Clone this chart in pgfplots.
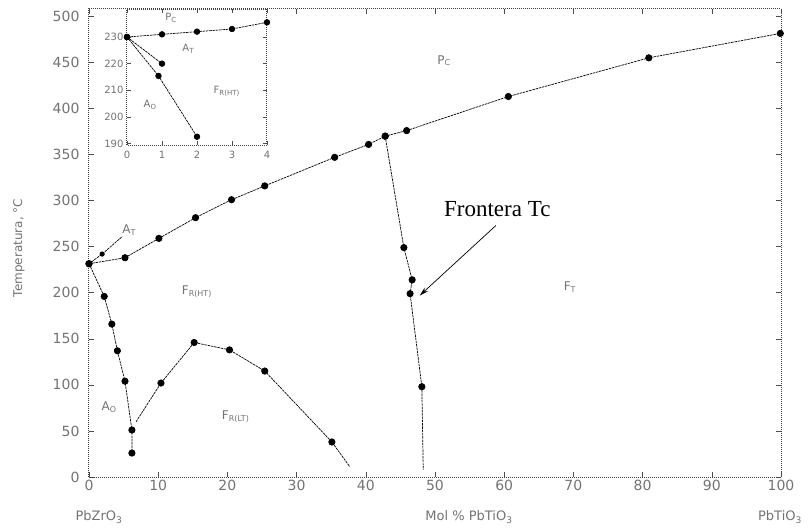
\documentclass[border=0pt]{standalone}
\usepackage{fontspec}
\setmainfont{DejaVu Sans}
\newfontfamily\tnr{Liberation Serif}
\usepackage{pgfplots}
\pgfplotsset{compat=1.18}
\usetikzlibrary{arrows.meta}
\definecolor{txt}{gray}{0.45}
\pgfplotsset{
  curve/.style={black, line width=0.7pt, dash pattern=on 2.5pt off 0.8pt,
    mark=*, mark size=3.2pt, mark options={solid, fill=black}},
}
\begin{document}
\begin{tikzpicture}
\begin{axis}[
  at={(0pt,0pt)}, anchor=south west,
  scale only axis, width=692pt, height=468pt,
  xmin=0, xmax=100, ymin=0, ymax=508,
  xtick={0,10,...,100}, ytick={0,50,...,500},
  tick align=inside, major tick length=5pt,
  tick style={black!70, line width=0.6pt},
  axis line style={black!75, line width=1pt, densely dotted},
  /pgf/number format/assume math mode=true,
  ticklabel style={font=\fontsize{14}{14}\selectfont, text=txt},
  yticklabel style={xshift=-6pt},
  clip=false,
]
% Tc boundary (upper curve)
\addplot[curve] coordinates {
 (0,231.5) (5.2,238) (10.1,259) (15.4,281.5) (20.6,301) (25.4,316)
 (35.5,347) (40.4,361) (42.8,370) (45.9,376) (60.6,413) (80.9,455) (99.9,481.5)};
% A_T branch
\addplot[curve, mark indices={2}, mark size=2.2pt] coordinates {
 (0,231.5) (1.9,242) (4.8,261)};
% A_O / F_R(HT) boundary
\addplot[curve] coordinates {
 (0,231.5) (2.2,196) (3.3,166) (4.1,137) (5.2,104) (6.2,51) (6.2,26)};
% F_R(LT) / F_R(HT) boundary
\addplot[curve, mark indices={2,3,4,5,6}] coordinates {
 (6.8,60) (10.4,102) (15.2,146) (20.3,138) (25.4,115) (35.1,38) (37.7,11)};
% morphotropic (Frontera Tc) boundary
\addplot[curve, mark indices={1,2,3,4,5}] coordinates {
 (42.8,370) (45.5,249) (46.7,214) (46.4,199) (48.1,98) (48.3,8)};

\node[font=\tnr\fontsize{23}{23}\selectfont, anchor=base] at (axis cs:59,283) {Frontera Tc};
\draw[-{Stealth[length=9pt,width=5pt]}, line width=0.7pt] (axis cs:58.8,273) -- (axis cs:47.8,197);

\begin{scope}[every node/.style={font=\fontsize{12}{12}\selectfont, text=txt}]
\node at (axis cs:51.3,452) {P\textsubscript{C}};
\node at (axis cs:5.8,268) {A\textsubscript{T}};
\node at (axis cs:15.6,201) {F\textsubscript{R(HT)}};
\node at (axis cs:21.2,66) {F\textsubscript{R(LT)}};
\node at (axis cs:2.9,76) {A\textsubscript{O}};
\node at (axis cs:69.5,206) {F\textsubscript{T}};
\end{scope}
\end{axis}

% inset
\begin{axis}[
  at={(38pt,332pt)}, anchor=south west,
  scale only axis, width=140pt, height=136pt,
  xmin=0, xmax=4, ymin=189.5, ymax=240.5,
  xtick={0,1,2,3,4}, ytick={190,200,210,220,230},
  tick align=inside, major tick length=4pt,
  tick style={black!70, line width=0.6pt},
  axis line style={black!75, line width=1pt, densely dotted},
  axis background/.style={fill=white},
  /pgf/number format/assume math mode=true,
  ticklabel style={font=\fontsize{10}{10}\selectfont, text=txt},
  xticklabel style={yshift=-3pt},
  clip=false,
]
\addplot[curve, mark size=2.8pt] coordinates {(0,230) (1,231) (2,232) (3,233) (4,235.5)};
\addplot[curve, mark size=2.8pt] coordinates {(0,230) (1,220)};
\addplot[curve, mark size=2.8pt] coordinates {(0,230) (0.9,215.4) (2,192.6)};
\begin{scope}[every node/.style={font=\fontsize{10}{10}\selectfont, text=txt}]
\node at (axis cs:1.26,237.1) {P\textsubscript{C}};
\node at (axis cs:1.75,225.5) {A\textsubscript{T}};
\node at (axis cs:2.85,209.5) {F\textsubscript{R(HT)}};
\node at (axis cs:0.66,204.6) {A\textsubscript{O}};
\end{scope}
\end{axis}

\node[rotate=90, font=\fontsize{12}{12}\selectfont, text=txt] at (-70pt,229pt) {Temperatura, °C};
\begin{scope}[every node/.style={font=\fontsize{13}{13}\selectfont, text=txt}]
\node at (10pt,-40pt) {PbZrO\textsubscript{3}};
\node at (380pt,-40pt) {Mol \% PbTiO\textsubscript{3}};
\node at (691pt,-40pt) {PbTiO\textsubscript{3}};
\end{scope}
\pgfresetboundingbox
\path (-89pt,-54pt) rectangle (720pt,477pt);
\end{tikzpicture}
\end{document}
